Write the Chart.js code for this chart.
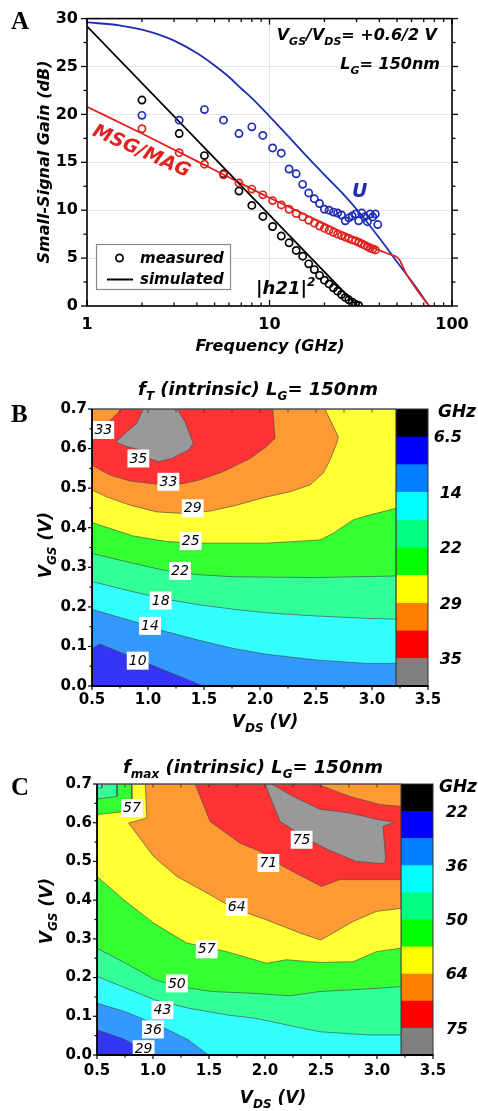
<!DOCTYPE html>
<html><head><meta charset="utf-8">
<script src="https://cdn.jsdelivr.net/npm/chart.js@4.4.0/dist/chart.umd.min.js"></script>
<style>
html,body{margin:0;padding:0;background:#fff;}
#wrap{position:relative;width:478px;height:1111px;overflow:hidden;background:#fff;}
.pane{position:absolute;left:0;width:478px;}
</style></head><body>
<div id="wrap">
<div class="pane" style="top:0;height:355px"><canvas id="cA"></canvas></div>
<div class="pane" style="top:355px;height:380px"><canvas id="cB"></canvas></div>
<div class="pane" style="top:735px;height:376px"><canvas id="cC"></canvas></div>
</div>
<script>
// ---------------- Panel A data ----------------
const measFreq = [2,3.2,4.4,5.6,6.8,8.0,9.2,10.4,11.6,12.8,14.0,15.2,16.4,17.6,18.8,20.0,21.2,22.4,23.6,24.8,26.0,27.2,28.4,29.6,30.8,32.0,33.2,34.4,35.6,36.8,38.0,39.2];
const h21Meas = [21.5,18.0,15.7,13.8,12.0,10.5,9.35,8.3,7.3,6.6,5.8,5.2,4.4,3.8,3.2,2.7,2.3,1.9,1.55,1.2,0.9,0.65,0.4,0.2,0.05];
const msgMeas = [18.5,16.0,14.8,13.7,12.85,12.2,11.6,11.0,10.55,10.1,9.65,9.3,8.95,8.65,8.35,8.1,7.9,7.7,7.5,7.35,7.2,7.05,6.9,6.8,6.65,6.5,6.35,6.2,6.05,5.95,5.85];
const uMeas = [19.9,19.4,20.5,19.4,18.0,18.7,17.8,16.5,15.95,14.3,13.8,12.7,11.8,11.2,10.7,10.1,10.0,9.8,9.7,9.5,8.9,9.2,9.4,9.6,8.9,9.7,9.3,8.8,9.6,9.3,9.6,8.5];
const h21SimFreq = [1,30.3];
const h21SimGain = [29.2,0];
const msgSimFreq = [1,2,5,10,20,30,40,47,50,52,55,60,67,75];
const msgSimGain = [20.8,18.0,14.2,11.3,8.6,7.0,5.8,5.3,5.1,4.7,3.7,2.5,1.2,0];
const uSimFreq = [1,1.5,2,2.5,3,4,5,6,7,8,10,12,15,20,25,30,40,47,50,60,75];
const uSimGain = [29.6,29.3,28.85,28.3,27.7,26.4,25.1,23.9,22.7,21.7,19.8,18.2,16.2,13.7,11.8,10.1,7.1,5.3,4.6,2.6,0];
const freqTicks = [1,10,100];
const freqMinor = [2,3,4,5,6,7,8,9,20,30,40,50,60,70,80,90];
const gainTicks = [0,5,10,15,20,25,30];
const gainMinor = [2.5,7.5,12.5,17.5,22.5,27.5];

// ---------------- Panel B data (fT contour regions, value >= level) ----------------
const ftLevels = [6.5,10,14,18,22,25,29,33,35];
const ftBarLabels = ['6.5','14','22','29','35'];
const ftBase = [[0.5,0],[3.215,0],[3.215,0.7],[0.5,0.7]];
const ftGe10 = [[0.5,0.095],[0.571,0.106],[1.494,0],[3.215,0],[3.215,0.7],[0.5,0.7]];
const ftGe14 = [[0.5,0.194],[0.869,0.163],[1.167,0.137],[1.464,0.115],[1.762,0.095],[2.06,0.080],[2.5,0.066],[2.952,0.057],[3.215,0.057],[3.215,0.7],[0.5,0.7]];
const ftGe18 = [[0.5,0.264],[0.869,0.238],[1.167,0.219],[1.464,0.205],[1.762,0.194],[2.06,0.185],[2.5,0.177],[2.952,0.171],[3.215,0.169],[3.215,0.7],[0.5,0.7]];
const ftGe22 = [[0.5,0.335],[0.869,0.310],[1.167,0.291],[1.464,0.281],[1.762,0.276],[2.5,0.274],[3.215,0.278],[3.215,0.7],[0.5,0.7]];
const ftGe25 = [[0.5,0.413],[0.869,0.379],[1.167,0.365],[1.464,0.361],[2.06,0.361],[2.536,0.369],[2.655,0.386],[2.833,0.42],[2.952,0.43],[3.215,0.449],[3.215,0.7],[0.5,0.7]];
const ftGe29 = [[0.5,0.495],[0.631,0.478],[0.839,0.457],[1.078,0.440],[1.315,0.436],[1.554,0.442],[1.792,0.457],[2.03,0.476],[2.268,0.491],[2.446,0.508],[2.565,0.538],[2.625,0.571],[2.685,0.613],[2.699,0.630],[2.58,0.7],[0.5,0.7]];
const ftGe33 = [[0.765,0.7],[2.113,0.7],[2.134,0.626],[2.06,0.605],[1.911,0.575],[1.673,0.542],[1.464,0.521],[1.286,0.510],[1.078,0.510],[0.839,0.518],[0.661,0.533],[0.5,0.558],[0.5,0.626]];
const ftGe35 = [[0.958,0.7],[1.262,0.7],[1.33,0.668],[1.405,0.613],[1.36,0.596],[1.211,0.575],[1.092,0.567],[1.018,0.574],[0.944,0.596],[0.81,0.605],[0.714,0.616],[0.78,0.634],[0.899,0.664]];
const ftContourLabels = [['33',0.601,0.647],['35',0.914,0.575],['33',1.182,0.516],['29',1.399,0.449],['25',1.381,0.366],['22',1.286,0.291],['18',1.113,0.216],['14',1.018,0.152],['10',0.908,0.064]];

// ---------------- Panel C data (fmax contour regions) ----------------
const fmLevels = [22,29,36,43,50,57,64,71,75];
const fmBarLabels = ['22','36','50','64','75'];
const fmBase = [[0.5,0],[3.218,0],[3.218,0.7],[0.5,0.7]];
const fmGe29 = [[0.5,0.065],[0.723,0.043],[0.871,0.022],[1.005,0],[3.218,0],[3.218,0.7],[0.5,0.7]];
const fmGe36 = [[0.5,0.134],[0.752,0.112],[1.079,0.073],[1.317,0.039],[1.495,0],[3.218,0],[3.218,0.7],[0.5,0.7]];
const fmGe43 = [[0.5,0.203],[0.723,0.177],[1.02,0.142],[1.317,0.121],[1.673,0.103],[1.911,0.095],[2.49,0.060],[2.906,0.052],[3.218,0.052],[3.218,0.7],[0.545,0.7],[0.545,0.69],[0.5,0.69]];
const fmGe50 = [[0.5,0.276],[0.782,0.233],[1.02,0.194],[1.228,0.177],[1.525,0.164],[1.911,0.159],[2.223,0.153],[2.49,0.164],[2.995,0.172],[3.218,0.177],[3.218,0.7],[0.678,0.7],[0.678,0.668],[0.5,0.661]];
const fmGe57 = [[0.5,0.461],[0.738,0.401],[1.005,0.341],[1.302,0.289],[1.658,0.267],[2.015,0.237],[2.193,0.246],[2.49,0.239],[2.787,0.241],[2.995,0.267],[3.218,0.276],[3.218,0.7],[0.806,0.7],[0.812,0.659],[0.752,0.629],[0.5,0.621]];
const fmGe64 = [[0.931,0.7],[3.218,0.7],[3.218,0.379],[2.995,0.371],[2.787,0.345],[2.499,0.297],[2.312,0.315],[2.015,0.349],[1.718,0.379],[1.51,0.414],[1.213,0.461],[1.005,0.513],[0.782,0.599],[0.946,0.612]];
const fmGe71 = [[1.376,0.7],[2.46,0.7],[2.757,0.668],[3.025,0.647],[3.218,0.642],[3.218,0.453],[2.668,0.453],[2.505,0.435],[2.163,0.487],[1.955,0.526],[1.777,0.547],[1.51,0.603]];
const fmGe75 = [[2.0,0.7],[2.059,0.7],[2.252,0.668],[2.49,0.635],[2.757,0.625],[2.995,0.609],[3.158,0.601],[3.054,0.591],[3.078,0.504],[3.054,0.494],[2.817,0.5],[2.564,0.530],[2.416,0.552],[2.252,0.582],[2.134,0.603]];
const fmContourLabels = [['57',0.812,0.638],['75',2.327,0.556],['71',2.03,0.496],['64',1.747,0.382],['57',1.48,0.273],['50',1.213,0.185],['43',1.085,0.116],['36',0.999,0.066],['29',0.916,0.015]];

const vdsTicks = [0.5,1.0,1.5,2.0,2.5,3.0,3.5];
const vdsMinor = [0.75,1.25,1.75,2.25,2.75,3.25];
const vgsTicks = [0,0.1,0.2,0.3,0.4,0.5,0.6,0.7];
const vgsMinor = [0.05,0.15,0.25,0.35,0.45,0.55,0.65];

// ---------------- styles ----------------
const FONT = '"DejaVu Sans", "Liberation Sans", sans-serif';
const SERIF = '"Liberation Serif", "DejaVu Serif", serif';
const BLUE = '#1f2db4', RED = '#e0231f';
const regionFill = ['#3535f5','#3399ff','#33ffff','#33ff99','#33ff33','#ffff33','#ff9933','#ff3333','#999999'];
const barColors = ['#000000','#0000ff','#0080ff','#00ffff','#00ff80','#00ff00','#ffff00','#ff8000','#ff0000','#808080'];
const CB_X0 = 3.215, CB_X1 = 3.5;

const zip = (xs, ys) => ys.map((y, i) => ({x: xs[i], y}));

function seg(ctx, x1, y1, x2, y2){ ctx.beginPath(); ctx.moveTo(x1,y1); ctx.lineTo(x2,y2); ctx.stroke(); }

function drawRich(ctx, parts, x, y, size, o){
  o = o || {};
  const style = o.style || 'italic bold';
  const fam = o.fam || FONT;
  const sz = p => (p.s || p.u) ? Math.round(size*0.68) : size;
  let w = 0;
  parts.forEach(p => { ctx.font = `${style} ${sz(p)}px ${fam}`; w += ctx.measureText(p.t).width; });
  let cx = o.align === 'right' ? x - w : o.align === 'center' ? x - w/2 : x;
  const base = o.mid ? y + size*0.36 : y;
  ctx.textAlign = 'left'; ctx.textBaseline = 'alphabetic';
  ctx.fillStyle = o.color || '#000';
  parts.forEach(p => {
    ctx.font = `${style} ${sz(p)}px ${fam}`;
    const dy = p.s ? size*0.3 : p.u ? -size*0.42 : 0;
    ctx.fillText(p.t, cx, base + dy);
    cx += ctx.measureText(p.t).width;
  });
}
function drawRot(ctx, parts, cx, cy, size, angleDeg, o){
  ctx.save(); ctx.translate(cx, cy); ctx.rotate(angleDeg*Math.PI/180);
  drawRich(ctx, parts, 0, 0, size, Object.assign({align:'center', mid:true}, o||{}));
  ctx.restore();
}

// ---------------- Panel A ----------------
const panelAPlugin = {
  id: 'panelA',
  afterDraw(chart){
    const {ctx, chartArea: a, scales: {x, y}} = chart;
    ctx.save();
    ctx.strokeStyle = '#000'; ctx.lineWidth = 1.3;
    gainTicks.forEach(v => { const p = y.getPixelForValue(v); seg(ctx, a.left-6, p, a.left, p); seg(ctx, a.right, p, a.right+6, p); });
    gainMinor.forEach(v => { const p = y.getPixelForValue(v); seg(ctx, a.left-3.5, p, a.left, p); seg(ctx, a.right, p, a.right+3.5, p); });
    freqTicks.forEach(v => { const p = x.getPixelForValue(v); seg(ctx, p, a.top, p, a.top+6); seg(ctx, p, a.bottom, p, a.bottom-6); });
    freqMinor.forEach(v => { const p = x.getPixelForValue(v); seg(ctx, p, a.top, p, a.top+3.5); seg(ctx, p, a.bottom, p, a.bottom-3.5); });
    ctx.lineWidth = 1.6; ctx.strokeRect(a.left, a.top, a.width, a.height);

    ctx.fillStyle = '#000'; ctx.font = `bold 25px ${SERIF}`; ctx.textAlign = 'left'; ctx.textBaseline = 'alphabetic';
    ctx.fillText('A', 11, 29);
    drawRot(ctx, [{t:'Small-Signal Gain (dB)'}], 43, 162, 16, -90);
    drawRich(ctx, [{t:'Frequency (GHz)'}], 270, 345, 16, {align:'center', mid:true});
    drawRich(ctx, [{t:'V'},{t:'GS',s:1},{t:'/V'},{t:'DS',s:1},{t:'= +0.6/2 V'}], 437, 40, 16, {align:'right'});
    drawRich(ctx, [{t:'L'},{t:'G',s:1},{t:'= 150nm'}], 440, 69, 16, {align:'right'});
    drawRich(ctx, [{t:'U'}], 352, 197, 19, {color: BLUE});
    drawRich(ctx, [{t:'|h21|'},{t:'2',u:1}], 256, 294, 18, {});
    drawRot(ctx, [{t:'MSG/MAG'}], 142, 150, 19, 24, {color: RED});

    ctx.fillStyle = '#fff'; ctx.fillRect(96.5, 244.5, 134, 45);
    ctx.strokeStyle = '#888'; ctx.lineWidth = 1.2; ctx.strokeRect(96.5, 244.5, 134, 45);
    ctx.strokeStyle = '#000'; ctx.lineWidth = 1.7;
    ctx.beginPath(); ctx.arc(119.5, 258, 3.6, 0, Math.PI*2); ctx.stroke();
    ctx.lineWidth = 2; seg(ctx, 107, 279.5, 133, 279.5);
    drawRich(ctx, [{t:'measured'}], 140, 258, 15, {mid:true});
    drawRich(ctx, [{t:'simulated'}], 140, 279, 15, {mid:true});
    ctx.restore();
  }
};

const tickFontA = {family: FONT, size: 16, weight: 'bold'};
new Chart(document.getElementById('cA'), {
  type: 'line',
  data: { datasets: [
    {data: zip(uSimFreq, uSimGain), borderColor: BLUE, borderWidth: 1.8, pointRadius: 0, cubicInterpolationMode: 'monotone', fill: false, order: 6},
    {data: zip(msgSimFreq, msgSimGain), borderColor: RED, borderWidth: 1.8, pointRadius: 0, cubicInterpolationMode: 'monotone', fill: false, order: 5},
    {data: zip(h21SimFreq, h21SimGain), borderColor: '#000', borderWidth: 1.8, pointRadius: 0, tension: 0, fill: false, order: 4},
    {data: zip(measFreq, h21Meas), showLine: false, pointRadius: 3.6, pointBorderWidth: 1.7, pointBorderColor: '#000', pointBackgroundColor: 'rgba(0,0,0,0)', order: 3},
    {data: zip(measFreq, uMeas), showLine: false, pointRadius: 3.6, pointBorderWidth: 1.7, pointBorderColor: BLUE, pointBackgroundColor: 'rgba(0,0,0,0)', order: 2},
    {data: zip(measFreq, msgMeas), showLine: false, pointRadius: 3.6, pointBorderWidth: 1.7, pointBorderColor: RED, pointBackgroundColor: 'rgba(0,0,0,0)', order: 1}
  ]},
  options: {
    responsive: true, maintainAspectRatio: false, animation: false,
    layout: {padding: {top: 17, right: 26, left: 0, bottom: 0}},
    plugins: {legend: {display: false}, tooltip: {enabled: false}},
    scales: {
      x: {type: 'logarithmic', min: 1, max: 100,
        afterFit: s => { s.height = 49; },
        afterBuildTicks: s => { s.ticks = freqTicks.map(v => ({value: v, major: true})); },
        ticks: {callback: v => String(v), font: tickFontA, color: '#000', padding: 9, maxRotation: 0, autoSkip: false},
        grid: {color: '#e4e4e4', lineWidth: 1, drawTicks: false}, border: {display: false}},
      y: {type: 'linear', min: 0, max: 30,
        afterFit: s => { s.width = 87; },
        ticks: {stepSize: 5, font: tickFontA, color: '#000', padding: 9},
        grid: {color: '#e4e4e4', lineWidth: 1, drawTicks: false}, border: {display: false}}
    }
  },
  plugins: [panelAPlugin]
});

// ---------------- Panels B and C ----------------
function contourPlugin(cfg){
  return {
    id: 'contour' + cfg.letter,
    afterDraw(chart){
      const {ctx, chartArea: a, scales: {x, y}} = chart;
      ctx.save();
      const cx0 = x.getPixelForValue(CB_X0), cx1 = x.getPixelForValue(CB_X1);
      const yTop = y.getPixelForValue(0.7), yBot = y.getPixelForValue(0);
      const bh = (yBot - yTop) / barColors.length;
      barColors.forEach((c, i) => { ctx.fillStyle = c; ctx.fillRect(cx0, yTop + i*bh, cx1 - cx0, bh + 0.5); });
      ctx.strokeStyle = '#333'; ctx.lineWidth = 1; ctx.strokeRect(cx0, yTop, cx1 - cx0, yBot - yTop);
      ctx.font = `italic 14px ${FONT}`; ctx.textAlign = 'center'; ctx.textBaseline = 'middle';
      cfg.labels.forEach(([t, vx, vy]) => {
        const px = x.getPixelForValue(vx), py = y.getPixelForValue(vy);
        const w = ctx.measureText(t).width;
        ctx.fillStyle = '#fff'; ctx.fillRect(px - w/2 - 2, py - 9, w + 4, 18);
        ctx.fillStyle = '#000'; ctx.fillText(t, px, py + 0.5);
      });
      ctx.strokeStyle = '#000'; ctx.lineWidth = 1.2;
      vgsTicks.forEach(v => { const p = y.getPixelForValue(v); seg(ctx, a.left-4, p, a.left, p); });
      vgsMinor.forEach(v => { const p = y.getPixelForValue(v); seg(ctx, a.left-2.5, p, a.left, p); });
      vdsTicks.forEach(v => { const p = x.getPixelForValue(v); seg(ctx, p, a.bottom, p, a.bottom+4); });
      vdsMinor.forEach(v => { const p = x.getPixelForValue(v); seg(ctx, p, a.bottom, p, a.bottom+2.5); });
      ctx.strokeStyle = 'rgba(60,0,0,0.55)';
      vdsTicks.concat(vdsMinor).forEach(v => { if (v < CB_X0) { const p = x.getPixelForValue(v); seg(ctx, p, a.top, p, a.top+3.5); } });
      ctx.strokeStyle = '#555'; ctx.lineWidth = 1.5; seg(ctx, a.left, a.top, cx0, a.top);
      ctx.strokeStyle = '#000'; ctx.lineWidth = 1.8;
      seg(ctx, a.left, a.top, a.left, a.bottom); seg(ctx, a.left - 0.9, a.bottom, a.right + 0.5, a.bottom);
      cfg.barLabels.forEach((t, k) => {
        const py = yTop + (2*k + 1) * bh;
        drawRich(ctx, [{t}], cfg.barLabelX, py, 16, {align: 'right', mid: true});
      });
      drawRich(ctx, [{t: 'GHz'}], cfg.ghzX, yTop + 2, 17, {align: 'right', mid: true});
      ctx.fillStyle = '#000'; ctx.font = `bold 25px ${SERIF}`; ctx.textAlign = 'left'; ctx.textBaseline = 'alphabetic';
      ctx.fillText(cfg.letter, 11, cfg.letterY);
      drawRich(ctx, cfg.title, cfg.titleX, cfg.titleY, 18, {align: 'center'});
      drawRot(ctx, [{t:'V'},{t:'GS',s:1},{t:' (V)'}], cfg.yTitleX, cfg.yTitleY, 17, -90);
      drawRich(ctx, [{t:'V'},{t:'DS',s:1},{t:' (V)'}], cfg.xTitleX, cfg.xTitleY, 17, {align: 'center'});
      ctx.restore();
    }
  };
}

function makeContour(id, cfg){
  const datasets = cfg.regions.map((pts, i) => ({
    data: pts.concat([pts[0]]).map(p => ({x: p[0], y: p[1]})),
    backgroundColor: regionFill[i], borderColor: 'rgba(70,70,70,0.9)', borderWidth: 0.7,
    fill: 'shape', pointRadius: 0, tension: 0, order: 100 - i
  }));
  const tf = {family: FONT, size: 15, weight: 'bold'};
  return new Chart(document.getElementById(id), {
    type: 'line',
    data: {datasets},
    options: {
      responsive: true, maintainAspectRatio: false, animation: false,
      layout: {padding: {top: cfg.padTop, right: cfg.padRight, left: 0, bottom: 0}},
      plugins: {legend: {display: false}, tooltip: {enabled: false}},
      scales: {
        x: {type: 'linear', min: 0.5, max: 3.5,
          afterFit: s => { s.height = cfg.xH; },
          ticks: {stepSize: 0.5, callback: v => Number(v).toFixed(1), font: tf, color: '#000', padding: cfg.xPad, maxRotation: 0, autoSkip: false},
          grid: {display: false, drawTicks: false}, border: {display: false}},
        y: {type: 'linear', min: 0, max: 0.7,
          afterFit: s => { s.width = cfg.yW; },
          ticks: {stepSize: 0.1, callback: v => Number(v).toFixed(1), font: tf, color: '#000', padding: 5},
          grid: {display: false, drawTicks: false}, border: {display: false}}
      }
    },
    plugins: [contourPlugin(cfg)]
  });
}

makeContour('cB', {
  letter: 'B', letterY: 67,
  regions: [ftBase, ftGe10, ftGe14, ftGe18, ftGe22, ftGe25, ftGe29, ftGe33, ftGe35],
  labels: ftContourLabels, barLabels: ftBarLabels,
  padTop: 54, padRight: 50, xH: 49, yW: 92, xPad: 5,
  barLabelX: 462, ghzX: 476,
  title: [{t:'f'},{t:'T',s:1},{t:' (intrinsic) L'},{t:'G',s:1},{t:'= 150nm'}], titleX: 258, titleY: 40,
  yTitleX: 45, yTitleY: 190, xTitleX: 265, xTitleY: 372
});
makeContour('cC', {
  letter: 'C', letterY: 60,
  regions: [fmBase, fmGe29, fmGe36, fmGe43, fmGe50, fmGe57, fmGe64, fmGe71, fmGe75],
  labels: fmContourLabels, barLabels: fmBarLabels,
  padTop: 49, padRight: 45, xH: 56, yW: 97, xPad: 7,
  barLabelX: 468, ghzX: 477,
  title: [{t:'f'},{t:'max',s:1},{t:' (intrinsic) L'},{t:'G',s:1},{t:'= 150nm'}], titleX: 253, titleY: 38,
  yTitleX: 46, yTitleY: 176, xTitleX: 273, xTitleY: 368
});
</script>
</body></html>
